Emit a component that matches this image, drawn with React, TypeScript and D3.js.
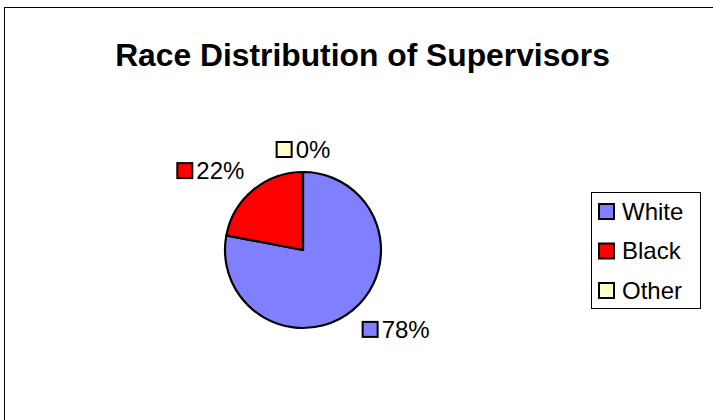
import { useEffect, useRef } from 'react';
import * as d3 from 'd3';

const categories = ['White', 'Black', 'Other'];
const shares = [78, 22, 0];
const colors = ['#8080FF', '#FF0000', '#FFFFCC'];
const title = 'Race Distribution of Supervisors';

const App = () => {
  const svgRef = useRef<SVGSVGElement | null>(null);

  const width = 713;
  const height = 420;
  const cx = 303;
  const cy = 250;
  const radius = 78;
  const labelRadius = 92;
  const font = 'Arial, "Liberation Sans", sans-serif';

  useEffect(() => {
    const svgElement = svgRef.current;
    if (!svgElement) return;

    const svg = d3.select(svgElement);
    svg.selectAll('*').remove();

    // chart area border (right and bottom run off the page)
    svg.append('rect')
      .attr('x', 4.5)
      .attr('y', 7.5)
      .attr('width', 740)
      .attr('height', 440)
      .attr('fill', '#fff')
      .attr('stroke', '#000')
      .attr('stroke-width', 1);

    svg.append('text')
      .attr('x', 362.5)
      .attr('y', 66)
      .attr('text-anchor', 'middle')
      .attr('font-family', font)
      .attr('font-weight', 'bold')
      .attr('font-size', 31.8)
      .text(title);

    const data = categories.map((c, i) => ({ name: c, value: shares[i], color: colors[i] }));
    const total = d3.sum(data, d => d.value);

    const pie = d3.pie<{ name: string; value: number; color: string }>()
      .sort(null)
      .value(d => d.value);
    const arcs = pie(data);

    const arc = d3.arc<d3.PieArcDatum<{ name: string; value: number; color: string }>>()
      .innerRadius(0)
      .outerRadius(radius);

    const g = svg.append('g').attr('transform', `translate(${cx},${cy})`);

    g.selectAll('path')
      .data(arcs.filter(a => a.data.value > 0))
      .join('path')
      .attr('d', arc)
      .attr('fill', d => d.data.color)
      .attr('stroke', '#000')
      .attr('stroke-width', 2.2)
      .attr('stroke-linejoin', 'round');

    // data labels with legend keys
    arcs.forEach(a => {
      const mid = (a.startAngle + a.endAngle) / 2;
      const s = Math.sin(mid);
      const c = Math.cos(mid);
      const ax = labelRadius * s;
      const ay = -labelRadius * c;

      const lg = g.append('g');
      lg.append('rect')
        .attr('x', 1)
        .attr('y', 1)
        .attr('width', 15)
        .attr('height', 15)
        .attr('fill', a.data.color)
        .attr('stroke', '#000')
        .attr('stroke-width', 2);
      const t = lg.append('text')
        .attr('x', 20)
        .attr('y', 17)
        .attr('font-family', font)
        .attr('font-size', 24)
        .text(`${Math.round((a.data.value / total) * 100)}%`);
      const tw = (t.node() as SVGTextElement).getComputedTextLength();
      const bw = 20 + tw;
      const bh = 17;
      const xFrac = s > 0.1 ? 0 : s < -0.1 ? 1 : 0.5;
      const yFrac = c > 0 ? 1 : 0;
      lg.attr('transform', `translate(${ax - xFrac * bw},${ay - yFrac * bh})`);
    });

    // legend
    const legend = svg.append('g');
    legend.append('rect')
      .attr('x', 591.5)
      .attr('y', 192.5)
      .attr('width', 109)
      .attr('height', 116)
      .attr('fill', '#fff')
      .attr('stroke', '#000')
      .attr('stroke-width', 1);

    const ly = d3.scalePoint<string>().domain(categories).range([211.5, 290.5]);

    categories.forEach((name, i) => {
      const y = ly(name) ?? 0;
      legend.append('rect')
        .attr('x', 599)
        .attr('y', y - 7.5)
        .attr('width', 15)
        .attr('height', 15)
        .attr('fill', colors[i])
        .attr('stroke', '#000')
        .attr('stroke-width', 2);
      legend.append('text')
        .attr('x', 622)
        .attr('y', y + 8)
        .attr('font-family', font)
        .attr('font-size', 24)
        .text(name);
    });
  }, []);

  return (
    <svg
      ref={svgRef}
      width={width}
      height={height}
      style={{ position: 'absolute', left: 0, top: 0, display: 'block' }}
    />
  );
};

export default App;
